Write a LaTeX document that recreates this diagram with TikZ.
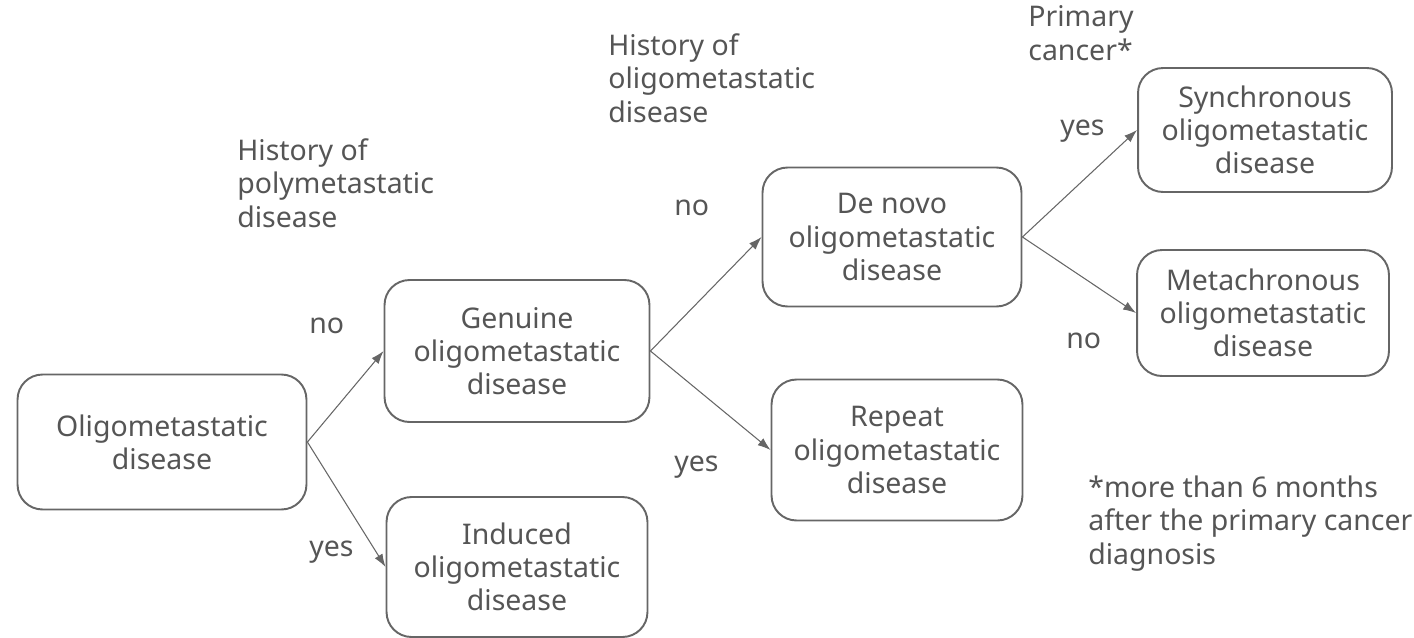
\documentclass[tikz,border=0pt]{standalone}
\usepackage{fontspec}
\setmainfont{Noto Sans}
\usetikzlibrary{arrows.meta}
\definecolor{txtgray}{HTML}{555555}
\definecolor{linegray}{HTML}{666666}
\tikzset{
  box/.style={draw=linegray, line width=1.1pt, rounded corners=0.5cm, align=center,
    text=txtgray, inner sep=0pt, font=\fontsize{16.2}{18.8}\selectfont},
  lbl/.style={text=txtgray, align=left, inner sep=0pt, anchor=base west,
    font=\fontsize{16.2}{18.8}\selectfont},
  arr/.style={-{Latex[length=2.6mm,width=1.8mm]}, draw=linegray, line width=0.6pt}
}
\begin{document}
\begin{tikzpicture}[x=0.02cm, y=-0.02cm]
\useasboundingbox (0,0) rectangle (1414,637);
% boxes
\node[box, minimum width=5.78cm, minimum height=2.70cm] (oligo) at (162,442) {Oligometastatic\\disease};
\node[box, minimum width=5.30cm, minimum height=2.84cm] (genuine) at (517,351) {Genuine\\oligometastatic\\disease};
\node[box, minimum width=5.22cm, minimum height=2.80cm] (induced) at (517,567) {Induced\\oligometastatic\\disease};
\node[box, minimum width=5.18cm, minimum height=2.78cm] (denovo) at (892,237) {De novo\\oligometastatic\\disease};
\node[box, minimum width=5.02cm, minimum height=2.82cm] (repeat) at (897,450) {Repeat\\oligometastatic\\disease};
\node[box, minimum width=5.08cm, minimum height=2.48cm] (synchron) at (1265,130) {Synchronous\\oligometastatic\\disease};
\node[box, minimum width=5.04cm, minimum height=2.52cm] (metachron) at (1263,313) {Metachronous\\oligometastatic\\disease};
% questions (base = last line)
\node[lbl] (qpoly) at (237,227) {History of\\polymetastatic\\disease};
\node[lbl] (qoligo) at (608,122) {History of\\oligometastatic\\disease};
\node[lbl] (qprim) at (1028,60) {Primary\\cancer*};
% answers
\node[lbl] (no1) at (309,333) {no};
\node[lbl] (yes1) at (309,556) {yes};
\node[lbl] (no2) at (674,215) {no};
\node[lbl] (yes2) at (674,471) {yes};
\node[lbl] (yes3) at (1060,135) {yes};
\node[lbl] (no3) at (1066,348) {no};
% footnote
\node[lbl] (note) at (1088,564) {*more than 6 months\\after the primary cancer\\diagnosis};
% connectors
\draw[arr] (oligo.east) -- (genuine.west);
\draw[arr] (oligo.east) -- (induced.west);
\draw[arr] (genuine.east) -- (denovo.west);
\draw[arr] (genuine.east) -- (repeat.west);
\draw[arr] (denovo.east) -- (synchron.west);
\draw[arr] (denovo.east) -- (metachron.west);
\end{tikzpicture}
\end{document}
